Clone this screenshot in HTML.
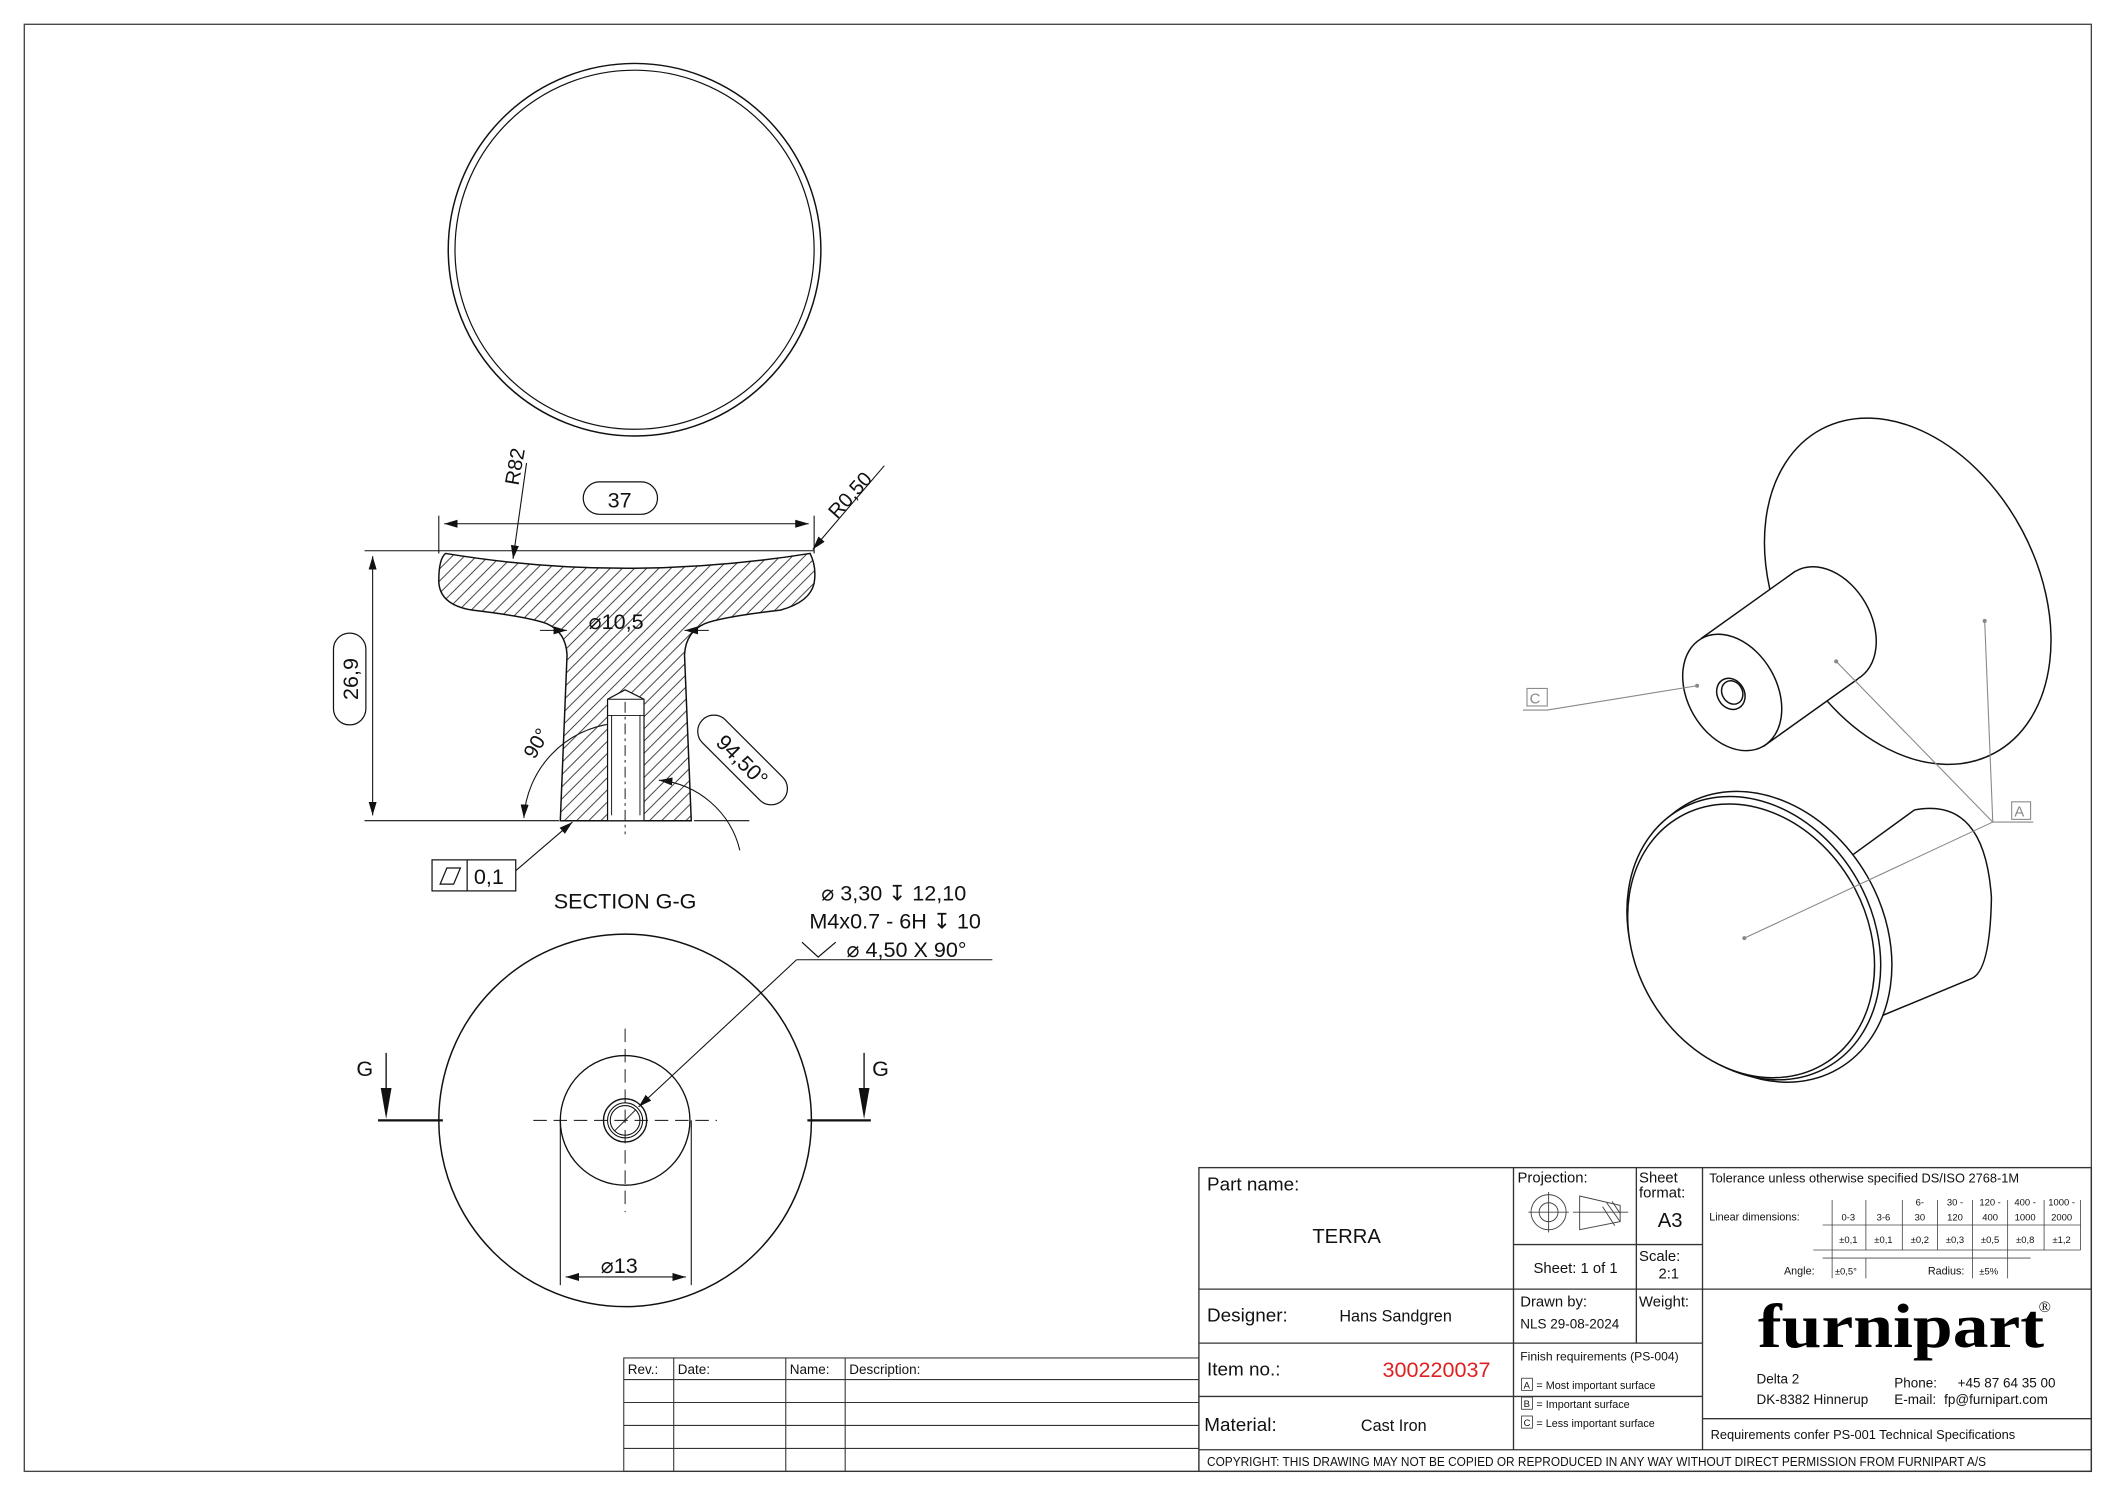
<!DOCTYPE html>
<html><head><meta charset="utf-8"><style>
html,body{margin:0;padding:0;background:#fff;}
svg{display:block;}
text{font-family:"Liberation Sans",sans-serif;fill:#111;}
</style></head><body>
<svg width="2117" height="1497" viewBox="0 0 1568 1109" preserveAspectRatio="none" xmlns="http://www.w3.org/2000/svg">
<defs>
<pattern id="h" patternUnits="userSpaceOnUse" width="9" height="9">
<path d="M-1 10 L10 -1 M-2 2 L2 -2 M7 11 L11 7" stroke="#222" stroke-width="0.6"/>
</pattern>
<marker id="ar" viewBox="0 0 10 6" refX="10" refY="3" markerWidth="10" markerHeight="6" orient="auto-start-reverse" markerUnits="userSpaceOnUse"><path d="M0 0 L10 3 L0 6 Z" fill="#111"/></marker>
</defs>
<rect x="18" y="18" width="1531" height="1072" fill="none" stroke="#444" stroke-width="1"/>

<!-- top view -->
<circle cx="470" cy="185" r="138" fill="none" stroke="#111" stroke-width="1.1"/>
<circle cx="470" cy="185" r="133" fill="none" stroke="#111" stroke-width="0.9"/>

<!-- section -->
<g stroke="#111" stroke-width="0.8" fill="none">
<line x1="270" y1="408" x2="603" y2="408"/>
<line x1="270" y1="608" x2="414" y2="608"/>
<line x1="514" y1="608" x2="555" y2="608"/>
<line x1="325" y1="382" x2="325" y2="410"/>
<line x1="603" y1="382" x2="603" y2="410"/>
<line x1="329" y1="388" x2="599" y2="388" marker-start="url(#ar)" marker-end="url(#ar)"/>
<line x1="276" y1="412" x2="276" y2="604" marker-start="url(#ar)" marker-end="url(#ar)"/>
<line x1="390" y1="343" x2="380" y2="414" marker-end="url(#ar)"/>
<line x1="655" y1="345" x2="602" y2="407" marker-end="url(#ar)"/>
<line x1="400" y1="467" x2="420" y2="467" marker-end="url(#ar)"/>
<line x1="525" y1="467" x2="507" y2="467" marker-end="url(#ar)"/>
<line x1="382" y1="645" x2="424" y2="609" marker-end="url(#ar)"/>
<path d="M454 536 A 75 75 0 0 0 388 606" marker-end="url(#ar)"/>
<path d="M488 578 A 68 68 0 0 1 548 630" marker-start="url(#ar)"/>
</g>
<path d="M330 410 Q463 432 600 410 Q605 420 603 432 Q600 446 578 452 Q535 457 522 462 Q508 468 507 485 L512 608 L415 608 L420 485 Q419 468 405 462 Q392 457 350 452 Q325 448 325 430 Q325 414 330 410 Z" fill="url(#h)" stroke="#111" stroke-width="1.1"/>
<path d="M450 608 L450 518 L463 511 L477 518 L477 608 Z" fill="#fff" stroke="#111" stroke-width="0.9"/>
<g stroke="#111" stroke-width="0.7" fill="none">
<line x1="450" y1="518" x2="477" y2="518"/>
<line x1="453" y1="530" x2="453" y2="604"/><line x1="474" y1="530" x2="474" y2="604"/>
<line x1="450" y1="530" x2="477" y2="530"/>
<line x1="463" y1="520" x2="463" y2="618" stroke-dasharray="8 3 2 3"/>
</g>
<rect x="432" y="357" width="55" height="24" rx="12" fill="#fff" stroke="#111" stroke-width="0.9"/>
<text x="459" y="376" font-size="16" text-anchor="middle">37</text>
<g transform="translate(259 503) rotate(-90)"><rect x="-34" y="-12" width="68" height="24" rx="12" fill="#fff" stroke="#111" stroke-width="0.9"/><text x="0" y="6" font-size="16" text-anchor="middle">26,9</text></g>
<text transform="translate(384 360) rotate(-80)" font-size="15">R82</text>
<text transform="translate(620 385) rotate(-48)" font-size="15">R0,50</text>
<text x="436" y="466" font-size="16">⌀10,5</text>
<text transform="translate(396 563) rotate(-60)" font-size="15">90°</text>
<g transform="translate(550 563) rotate(45)"><rect x="-42" y="-12" width="84" height="24" rx="12" fill="#fff" stroke="#111" stroke-width="0.9"/><text x="0" y="6" font-size="16" text-anchor="middle">94,50°</text></g>
<rect x="320" y="637" width="62" height="23" fill="#fff" stroke="#111" stroke-width="0.9"/>
<line x1="346" y1="637" x2="346" y2="660" stroke="#111" stroke-width="0.9"/>
<path d="M326 655 L331 643 L341 643 L336 655 Z" fill="none" stroke="#111" stroke-width="0.9"/>
<text x="351" y="655" font-size="16">0,1</text>
<text x="463" y="673" font-size="16" text-anchor="middle">SECTION G-G</text>

<!-- callout -->
<text x="662" y="667" font-size="16" text-anchor="middle">⌀ 3,30 ↧ 12,10</text>
<text x="663" y="688" font-size="16" text-anchor="middle">M4x0.7 - 6H ↧ 10</text>
<text x="627" y="709" font-size="16">⌀ 4,50 X 90°</text>
<path d="M594 698 L606 709 L619 698" fill="none" stroke="#111" stroke-width="0.9"/>
<line x1="590" y1="711" x2="735" y2="711" stroke="#111" stroke-width="0.8"/>
<line x1="590" y1="711" x2="473" y2="820" stroke="#111" stroke-width="0.8" marker-end="url(#ar)"/>

<!-- bottom view -->
<g stroke="#111" fill="none">
<circle cx="463" cy="830" r="138" stroke-width="1.1"/>
<circle cx="463" cy="830" r="48" stroke-width="1"/>
<circle cx="463" cy="830" r="16" stroke-width="1"/>
<circle cx="463" cy="830" r="13" stroke-width="0.8"/>
<circle cx="463" cy="830" r="11" stroke-width="0.8"/>
<g stroke-width="0.7" stroke-dasharray="10 5">
<line x1="395" y1="830" x2="531" y2="830"/><line x1="463" y1="762" x2="463" y2="898"/>
</g>
<line x1="455" y1="838" x2="471" y2="822" stroke-width="0.7"/>
<line x1="415" y1="830" x2="415" y2="952" stroke-width="0.8"/>
<line x1="512" y1="830" x2="512" y2="952" stroke-width="0.8"/>
<line x1="419" y1="946" x2="508" y2="946" stroke-width="0.8" marker-start="url(#ar)" marker-end="url(#ar)"/>
<line x1="280" y1="830" x2="328" y2="830" stroke-width="1.6"/>
<line x1="598" y1="830" x2="645" y2="830" stroke-width="1.6"/>
<line x1="286" y1="780" x2="286" y2="810" stroke-width="1"/>
<line x1="640" y1="780" x2="640" y2="810" stroke-width="1"/>
</g>
<path d="M282 806 L290 806 L286 829 Z" fill="#111"/>
<path d="M636 806 L644 806 L640 829 Z" fill="#111"/>
<text x="264" y="797" font-size="16">G</text>
<text x="646" y="797" font-size="16">G</text>
<text x="445" y="943" font-size="16">⌀13</text>

<!-- isometric upper -->
<g stroke="#111" stroke-width="1.1" fill="#fff">
<ellipse cx="1413" cy="438" rx="136" ry="96" transform="rotate(62 1413 438)"/>
<ellipse cx="1353" cy="463" rx="46" ry="33" transform="rotate(60 1353 463)"/>
<path d="M1260 473 L1330 423 L1376 503 L1306 553 Z" stroke="none"/>
<line x1="1260" y1="473" x2="1330" y2="423"/>
<line x1="1306" y1="553" x2="1376" y2="503"/>
<ellipse cx="1283" cy="513" rx="46" ry="33" transform="rotate(60 1283 513)"/>
<ellipse cx="1282" cy="514" rx="12" ry="10" transform="rotate(60 1282 514)"/>
<ellipse cx="1283" cy="513" rx="9" ry="7.5" transform="rotate(60 1283 513)"/>
</g>
<!-- isometric lower -->
<g stroke="#111" stroke-width="1.1" fill="#fff">
<path d="M1363 640 L1418 600 Q1470 590 1475 665 Q1474 720 1460 725 L1395 752 Z"/>
<ellipse cx="1305" cy="694" rx="113" ry="90" transform="rotate(60 1305 694)"/>
<ellipse cx="1299" cy="695" rx="110" ry="88" transform="rotate(60 1299 695)"/>
<ellipse cx="1297" cy="697" rx="106" ry="86" transform="rotate(60 1297 697)"/>
</g>
<!-- leaders -->
<g stroke="#888" stroke-width="0.8" fill="none">
<rect x="1131" y="510" width="15" height="13"/>
<polyline points="1128,526 1146,526 1257,508"/>
<rect x="1490" y="594" width="14" height="13"/>
<line x1="1476" y1="609" x2="1506" y2="609"/>
<line x1="1476" y1="609" x2="1360" y2="490"/>
<line x1="1476" y1="609" x2="1470" y2="460"/>
<line x1="1476" y1="609" x2="1292" y2="695"/>
</g>
<g fill="#888"><circle cx="1257" cy="508" r="1.5"/><circle cx="1360" cy="490" r="1.5"/><circle cx="1470" cy="460" r="1.5"/><circle cx="1292" cy="695" r="1.5"/></g>
<text x="1133" y="521" font-size="11" style="fill:#888">C</text>
<text x="1492" y="605" font-size="11" style="fill:#888">A</text>

<!-- revision table -->
<g stroke="#333" stroke-width="0.8" fill="none">
<rect x="462" y="1006" width="426" height="84"/>
<line x1="462" y1="1022" x2="888" y2="1022"/><line x1="462" y1="1039" x2="888" y2="1039"/>
<line x1="462" y1="1056" x2="888" y2="1056"/><line x1="462" y1="1073" x2="888" y2="1073"/>
<line x1="499" y1="1006" x2="499" y2="1090"/><line x1="582" y1="1006" x2="582" y2="1090"/><line x1="626" y1="1006" x2="626" y2="1090"/>
</g>
<text x="465" y="1018" font-size="10">Rev.:</text><text x="502" y="1018" font-size="10">Date:</text><text x="585" y="1018" font-size="10">Name:</text><text x="629" y="1018" font-size="10">Description:</text>

<!-- title block -->
<g stroke="#333" stroke-width="1" fill="none">
<rect x="888" y="865" width="661" height="225"/>
<line x1="888" y1="955" x2="1549" y2="955"/>
<line x1="888" y1="995" x2="1261" y2="995"/>
<line x1="888" y1="1034.5" x2="1261" y2="1034.5"/>
<line x1="888" y1="1074" x2="1549" y2="1074"/>
<line x1="1121" y1="865" x2="1121" y2="1074"/>
<line x1="1212" y1="865" x2="1212" y2="995"/>
<line x1="1261" y1="865" x2="1261" y2="1074"/>
<line x1="1121" y1="922" x2="1261" y2="922"/>
<line x1="1261" y1="1051" x2="1549" y2="1051"/>
</g>
<text x="894" y="882" font-size="14">Part name:</text>
<text x="972" y="921" font-size="15">TERRA</text>
<text x="894" y="979" font-size="14">Designer:</text>
<text x="992" y="979" font-size="12">Hans Sandgren</text>
<text x="894" y="1019" font-size="14">Item no.:</text>
<text x="1024" y="1020" font-size="16" style="fill:#e02020">300220037</text>
<text x="892" y="1060" font-size="14">Material:</text>
<text x="1008" y="1060" font-size="12">Cast Iron</text>
<text x="1124" y="876" font-size="11">Projection:</text>
<g stroke="#444" stroke-width="0.7" fill="none">
<circle cx="1147" cy="898" r="13"/><circle cx="1147" cy="898" r="7"/>
<line x1="1132" y1="898" x2="1162" y2="898"/><line x1="1147" y1="883" x2="1147" y2="913"/>
<path d="M1170 886 L1200 893 L1200 905 L1170 911 Z"/>
<line x1="1165" y1="898" x2="1206" y2="898"/>
<path d="M1190 891 L1200 905 M1194 890 L1200 899 M1187 894 L1196 908"/>
</g>
<text x="1214" y="876" font-size="11">Sheet</text>
<text x="1214" y="887" font-size="11">format:</text>
<text x="1237" y="909" font-size="15" text-anchor="middle">A3</text>
<text x="1167" y="943" font-size="11" text-anchor="middle">Sheet: 1 of 1</text>
<text x="1214" y="934" font-size="11">Scale:</text>
<text x="1236" y="947" font-size="11" text-anchor="middle">2:1</text>
<text x="1126" y="968" font-size="11">Drawn by:</text>
<text x="1126" y="984" font-size="10">NLS 29-08-2024</text>
<text x="1214" y="968" font-size="11">Weight:</text>
<text x="1126" y="1008" font-size="9">Finish requirements (PS-004)</text>
<g stroke="#333" stroke-width="0.6" fill="none"><rect x="1127" y="1021" width="8" height="9"/><rect x="1127" y="1035" width="8" height="9"/><rect x="1127" y="1049" width="8" height="9"/></g>
<text x="1128.5" y="1028.5" font-size="7">A</text><text x="1128.5" y="1042.5" font-size="7">B</text><text x="1128.5" y="1056.5" font-size="7">C</text>
<text x="1138" y="1029" font-size="8">= Most important surface</text>
<text x="1138" y="1043" font-size="8">= Important surface</text>
<text x="1138" y="1057" font-size="8">= Less important surface</text>
<!-- tolerance -->
<text x="1266" y="876" font-size="9.5">Tolerance unless otherwise specified DS/ISO 2768-1M</text>
<text x="1266" y="904" font-size="8">Linear dimensions:</text>
<g stroke="#444" stroke-width="0.6">
<line x1="1357" y1="889" x2="1357" y2="947"/><line x1="1382" y1="889" x2="1382" y2="926"/><line x1="1409" y1="889" x2="1409" y2="926"/>
<line x1="1435" y1="889" x2="1435" y2="926"/><line x1="1461" y1="889" x2="1461" y2="947"/><line x1="1487" y1="889" x2="1487" y2="947"/>
<line x1="1514" y1="889" x2="1514" y2="926"/><line x1="1541" y1="889" x2="1541" y2="926"/>
<line x1="1350" y1="907.5" x2="1541" y2="907.5"/><line x1="1343" y1="926" x2="1541" y2="926"/><line x1="1350" y1="932" x2="1504" y2="932"/>
<line x1="1382" y1="932" x2="1382" y2="947"/>
</g>
<g text-anchor="middle">
<text x="1369" y="904" font-size="7">0-3</text><text x="1395" y="904" font-size="7">3-6</text><text x="1422" y="893" font-size="7">6-</text><text x="1422" y="904" font-size="7">30</text>
<text x="1448" y="893" font-size="7">30 -</text><text x="1448" y="904" font-size="7">120</text><text x="1474" y="893" font-size="7">120 -</text><text x="1474" y="904" font-size="7">400</text>
<text x="1500" y="893" font-size="7">400 -</text><text x="1500" y="904" font-size="7">1000</text><text x="1527" y="893" font-size="7">1000 -</text><text x="1527" y="904" font-size="7">2000</text>
<text x="1369" y="921" font-size="7">±0,1</text><text x="1395" y="921" font-size="7">±0,1</text><text x="1422" y="921" font-size="7">±0,2</text><text x="1448" y="921" font-size="7">±0,3</text>
<text x="1474" y="921" font-size="7">±0,5</text><text x="1500" y="921" font-size="7">±0,8</text><text x="1527" y="921" font-size="7">±1,2</text>
</g>
<text x="1344" y="944" font-size="8" text-anchor="end">Angle:</text>
<text x="1359" y="944" font-size="7">±0,5°</text>
<text x="1455" y="944" font-size="8" text-anchor="end">Radius:</text>
<text x="1466" y="944" font-size="7">±5%</text>
<!-- logo -->
<text x="1302" y="998" font-size="46" font-weight="bold" textLength="212" lengthAdjust="spacingAndGlyphs" style="font-family:'Liberation Serif',serif;fill:#000">furnipart</text>
<text x="1510" y="972" font-size="12" style="font-family:'Liberation Serif',serif">®</text>
<text x="1301" y="1025" font-size="10">Delta 2</text>
<text x="1301" y="1040" font-size="10">DK-8382 Hinnerup</text>
<text x="1403" y="1028" font-size="10">Phone:</text>
<text x="1450" y="1028" font-size="10">+45 87 64 35 00</text>
<text x="1403" y="1040" font-size="10">E-mail:</text>
<text x="1440" y="1040" font-size="10">fp@furnipart.com</text>
<text x="1267" y="1066" font-size="9.5">Requirements confer PS-001 Technical Specifications</text>
<text x="894" y="1086" font-size="9.5" textLength="577" lengthAdjust="spacingAndGlyphs">COPYRIGHT: THIS DRAWING MAY NOT BE COPIED OR REPRODUCED IN ANY WAY WITHOUT DIRECT PERMISSION FROM FURNIPART A/S</text>
</svg>
</body></html>
